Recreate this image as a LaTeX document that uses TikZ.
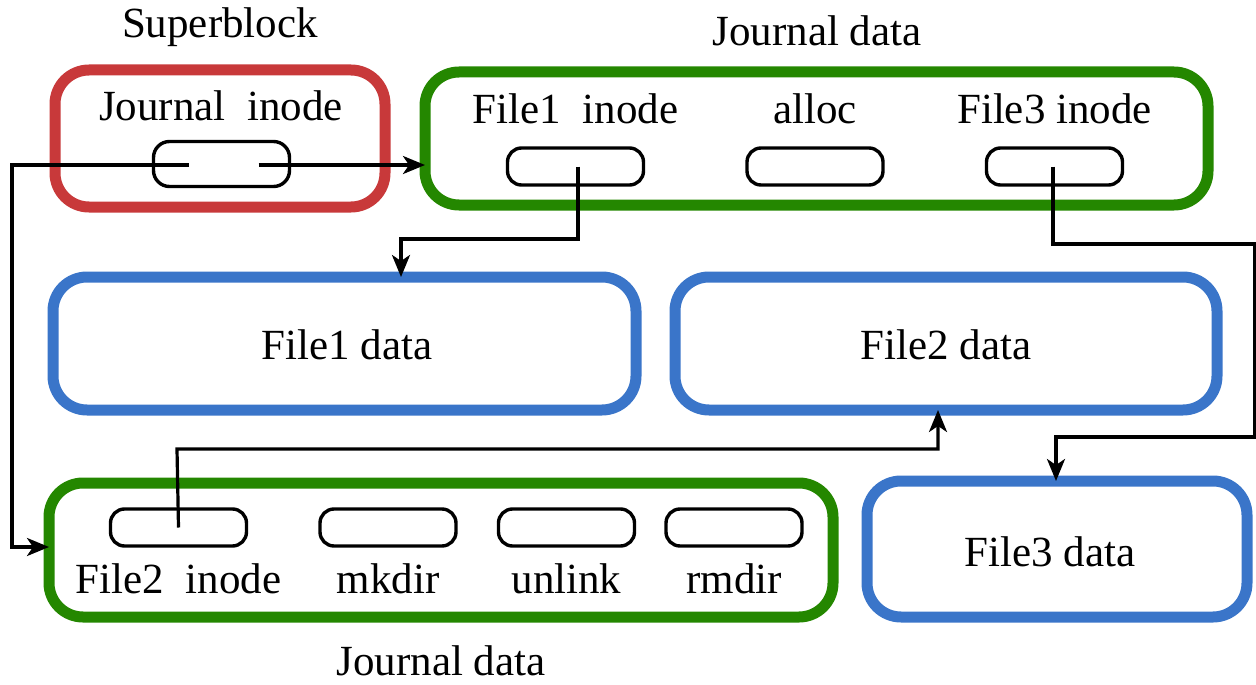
\documentclass[tikz,border=0pt]{standalone}
\usepackage{fontspec}
\setmainfont{Liberation Serif}
\usetikzlibrary{arrows.meta,calc}
\definecolor{sbred}{RGB}{200,57,58}
\definecolor{jgreen}{RGB}{36,135,0}
\definecolor{dblue}{RGB}{58,117,201}
\tikzset{
  region/.style={draw, line width=11pt, rounded corners=34pt, outer sep=0pt, inner sep=0pt},
  pill/.style={draw, line width=3.4pt, rounded corners=14pt, outer sep=0pt,
    minimum width=136pt, minimum height=37pt, inner sep=0pt},
  lbl/.style={anchor=base, inner sep=0pt, font=\fontsize{43}{50}\selectfont},
  link/.style={line width=3.2pt, -{Stealth[length=22pt,width=18pt,inset=6pt]}},
}
\begin{document}
\begin{tikzpicture}[x=1pt,y=-1pt]
\useasboundingbox (0,0) rectangle (1256,685);

% regions
\node[region, draw=sbred, minimum width=330pt, minimum height=137pt] (sb) at (220,138.5) {};
\node[region, draw=jgreen, minimum width=783pt, minimum height=133pt] (jt) at (816.5,138.5) {};
\node[region, draw=dblue, minimum width=583pt, minimum height=133pt] (f1) at (344.5,343.5) {};
\node[region, draw=dblue, minimum width=542pt, minimum height=133pt] (f2) at (946,343.5) {};
\node[region, draw=jgreen, minimum width=784pt, minimum height=134pt] (jb) at (441,550) {};
\node[region, draw=dblue, minimum width=380pt, minimum height=136pt] (f3) at (1057,549) {};

% pointer slots
\node[pill, minimum height=45pt, rounded corners=16pt] (jp) at (221.5,164) {};
\node[pill] (p1) at (575.5,166.5) {};
\node[pill] (pa) at (815,166.5) {};
\node[pill] (p3) at (1054.5,166.5) {};
\node[pill] (p2) at (178.5,527.5) {};
\node[pill] (pm) at (388,527.5) {};
\node[pill] (pu) at (566.5,527.5) {};
\node[pill] (pr) at (734,527.5) {};

% labels
\node[lbl] (tsb) at (220,38) {Superblock};
\node[lbl] (tjt) at (817,46) {Journal data};
\node[lbl] (tjb) at (441,675) {Journal data};
\node[lbl] (tji) at (221,121) {Journal\ \ inode};
\node[lbl] (t1i) at (575.5,123) {File1\ \ inode};
\node[lbl] (tal) at (815,123) {alloc};
\node[lbl] (t3i) at (1054.5,123) {File3 inode};
\node[lbl] (tf1) at (347,359) {File1 data};
\node[lbl] (tf2) at (946,359) {File2 data};
\node[lbl] (tf3) at (1050,566) {File3 data};
\node[lbl] (t2i) at (178.5,593) {File2\ \ inode};
\node[lbl] (tmk) at (388,593) {mkdir};
\node[lbl] (tun) at (566.5,593) {unlink};
\node[lbl] (trm) at (734,593) {rmdir};

% connectors
\coordinate (jl) at ($(jp.center)+(-33,1)$);
\coordinate (jr) at ($(jp.center)+(37,1)$);
\draw[link] (jl) -- (12,165) |- (jb.west |- 0,547);
\draw[link] (jr) -- (jt.west |- jr);
\draw[link] ($(p1.center)+(2.5,0)$) -- (578,239) -| (f1.north -| 401,0);
\draw[link] ($(p3.center)+(-1.5,0)$) -- (1053,244) -- (1255,244) -- (1255,437) -| (f3.north -| 1056,0);
\draw[link] (p2.center) -- (177,449) -| (f2.south -| 938,0);
\end{tikzpicture}
\end{document}
